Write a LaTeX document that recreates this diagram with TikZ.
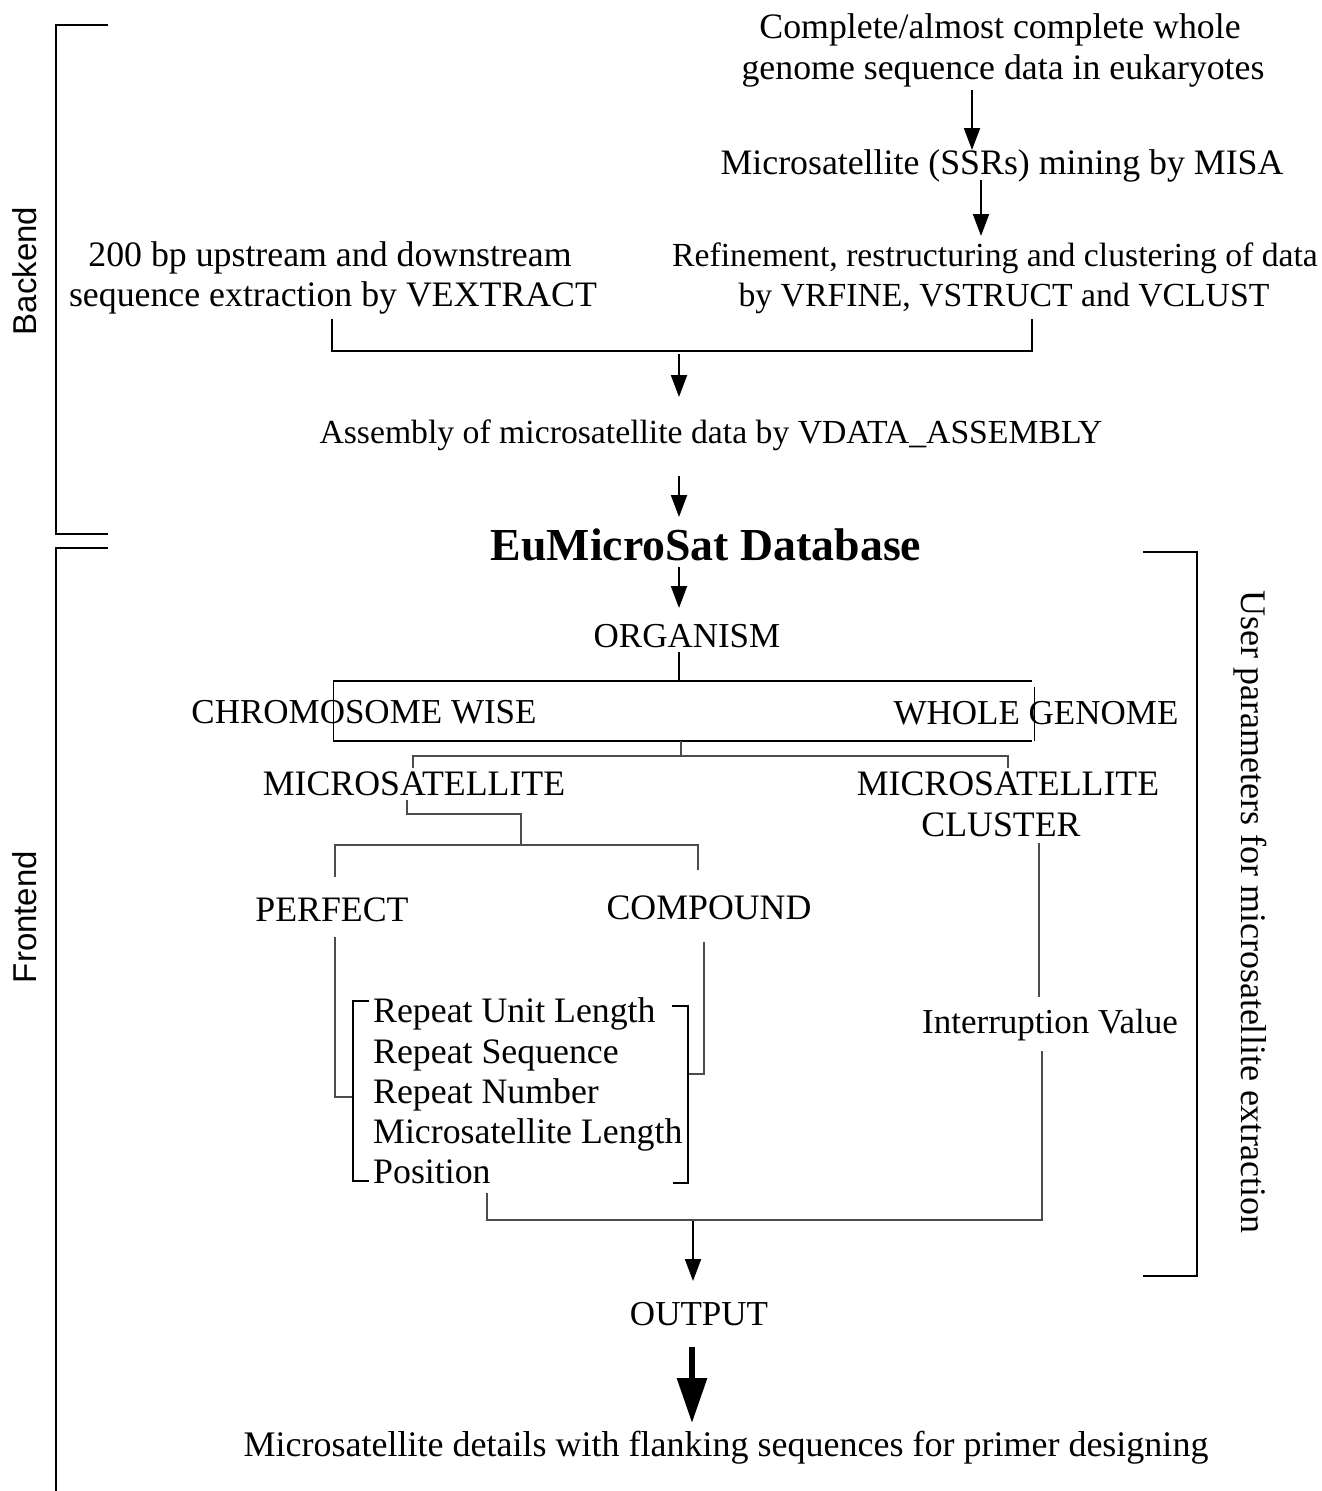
\documentclass[tikz,border=0pt]{standalone}
\usepackage{fontspec}
\setmainfont{Liberation Serif}
\newfontfamily\sansf{Liberation Sans}
\usetikzlibrary{arrows.meta}
\begin{document}
\begin{tikzpicture}[x=1pt,y=-1pt,
  txt/.style={font=\fontsize{35.8}{40}\selectfont, inner sep=0pt, anchor=base},
  txtm/.style={txt, font=\fontsize{35}{40}\selectfont},
  txts/.style={txt, font=\fontsize{33.7}{40}\selectfont},
  side/.style={font=\sansf\fontsize{33}{36}\selectfont, inner sep=0pt},
  heavy/.style={line width=2pt, draw=black},
  light/.style={line width=1.4pt, draw=black!70},
  arr/.style={line width=2pt, -{Triangle[length=22pt,width=16pt]}},
  bigarr/.style={line width=6pt, -{Triangle[length=45pt,width=29pt]}}]
\useasboundingbox[fill=white] (0,0) rectangle (1322,1491);

% ---------- text nodes ----------
\node[txt] (c1) at (1000,38) {Complete/almost complete whole};
\node[txt] (c2) at (1003,79) {genome sequence data in eukaryotes};
\node[txt] (misa) at (1002,174) {Microsatellite (SSRs) mining by MISA};
\node[txts] (ref1) at (995,266) {Refinement, restructuring and clustering of data};
\node[txts] (ref2) at (1004,306) {by VRFINE, VSTRUCT and VCLUST};
\node[txt] (ext1) at (330,266) {200 bp upstream and downstream};
\node[txt] (ext2) at (333,306) {sequence extraction by VEXTRACT};
\node[txts] (asm) at (711,443) {Assembly of microsatellite data by VDATA\_ASSEMBLY};
\node[txt, font=\fontsize{45.8}{50}\selectfont\bfseries] (db) at (706,560) {EuMicroSat Database};
\node[txtm] (org) at (687,647) {ORGANISM};
\node[txtm] (chr) at (364,723) {CHROMOSOME WISE};
\node[txtm] (whole) at (1036,724) {WHOLE GENOME};
\node[txt] (ms) at (414,795) {MICROSATELLITE};
\node[txt] (msc1) at (1008,795) {MICROSATELLITE};
\node[txt] (msc2) at (1001,836) {CLUSTER};
\node[txt] (perf) at (332,921) {PERFECT};
\node[txt] (comp) at (709,919) {COMPOUND};
\node[txt, anchor=base west] (p1) at (373,1022) {Repeat Unit Length};
\node[txt, anchor=base west] (p2) at (373,1063) {Repeat Sequence};
\node[txt, anchor=base west] (p3) at (373,1103) {Repeat Number};
\node[txt, anchor=base west] (p4) at (373,1143) {Microsatellite Length};
\node[txt, anchor=base west] (p5) at (373,1183) {Position};
\node[txtm] (intr) at (1050,1033) {Interruption Value};
\node[txtm] (out) at (699,1325) {OUTPUT};
\node[txt, font=\fontsize{36}{40}\selectfont] (fin) at (726,1456) {Microsatellite details with flanking sequences for primer designing};

\node[side, rotate=90] (back) at (25,271) {Backend};
\node[side, rotate=90] (front) at (25,917) {Frontend};
\node[txt, anchor=center, font=\fontsize{36}{40}\selectfont, rotate=-90] (user) at (1250,912) {User parameters for microsatellite extraction};

% ---------- coordinates ----------
\coordinate (a1s) at (972,90);   \coordinate (a1e) at (972,150);
\coordinate (a2s) at (981,180);  \coordinate (a2e) at (981,236);
\coordinate (a3s) at (679,354);  \coordinate (a3e) at (679,397);
\coordinate (a4s) at (679,476);  \coordinate (a4e) at (679,517);
\coordinate (a5s) at (679,567);  \coordinate (a5e) at (679,608);
\coordinate (a6s) at (693,1221); \coordinate (a6e) at (693,1281);
\coordinate (a7s) at (692,1347); \coordinate (a7e) at (692,1423);

% ---------- arrows ----------
\draw[arr] (a1s) -- (a1e);
\draw[arr] (a2s) -- (a2e);
\draw[arr] (a3s) -- (a3e);
\draw[arr] (a4s) -- (a4e);
\draw[arr] (a5s) -- (a5e);
\draw[arr] (a6s) -- (a6e);
\draw[bigarr] (a7s) -- (a7e);

% ---------- top bracket joining extraction & refinement ----------
\draw[heavy] (332,319) -- (332,351) -- (1032,351) -- (1032,319);

% ---------- organism box ----------
\draw[heavy] (679,652) -- (679,681);
\draw[heavy, line width=2.5pt] (333,681) -- (1032,681);
\draw[heavy, line width=2.5pt] (333,741) -- (1032,741);
\draw[line width=1pt] (333,681) -- (333,741);
\draw[line width=1pt] (1034,687) -- (1034,741);

% ---------- to microsatellite / cluster ----------
\draw[light] (681,741) -- (681,756);
\draw[light] (413,768) -- (413,756) -- (1008,756) -- (1008,768);

% ---------- microsatellite split ----------
\draw[light] (407,800) -- (407,814) -- (521,814) -- (521,845);
\draw[light] (335,877) -- (335,845) -- (698,845) -- (698,870);

% ---------- perfect / compound to parameter list ----------
\draw[light] (335,937) -- (335,1097) -- (353,1097);
\draw[light] (704,942) -- (704,1074) -- (688,1074);

% ---------- parameter brackets ----------
\draw[heavy] (369,1001) -- (353,1001) -- (353,1181) -- (369,1181);
\draw[heavy] (672,1006) -- (688,1006) -- (688,1183) -- (673,1183);

% ---------- cluster path ----------
\draw[light] (1039,843) -- (1039,997);
\draw[light] (1042,1051) -- (1042,1220) -- (487,1220) -- (487,1193);

% ---------- side brackets ----------
\draw[heavy] (108,25) -- (56,25) -- (56,534) -- (108,534);
\draw[heavy] (108,548) -- (56,548) -- (56,1491);
\draw[heavy] (1143,552) -- (1197,552) -- (1197,1276) -- (1143,1276);
\end{tikzpicture}
\end{document}
